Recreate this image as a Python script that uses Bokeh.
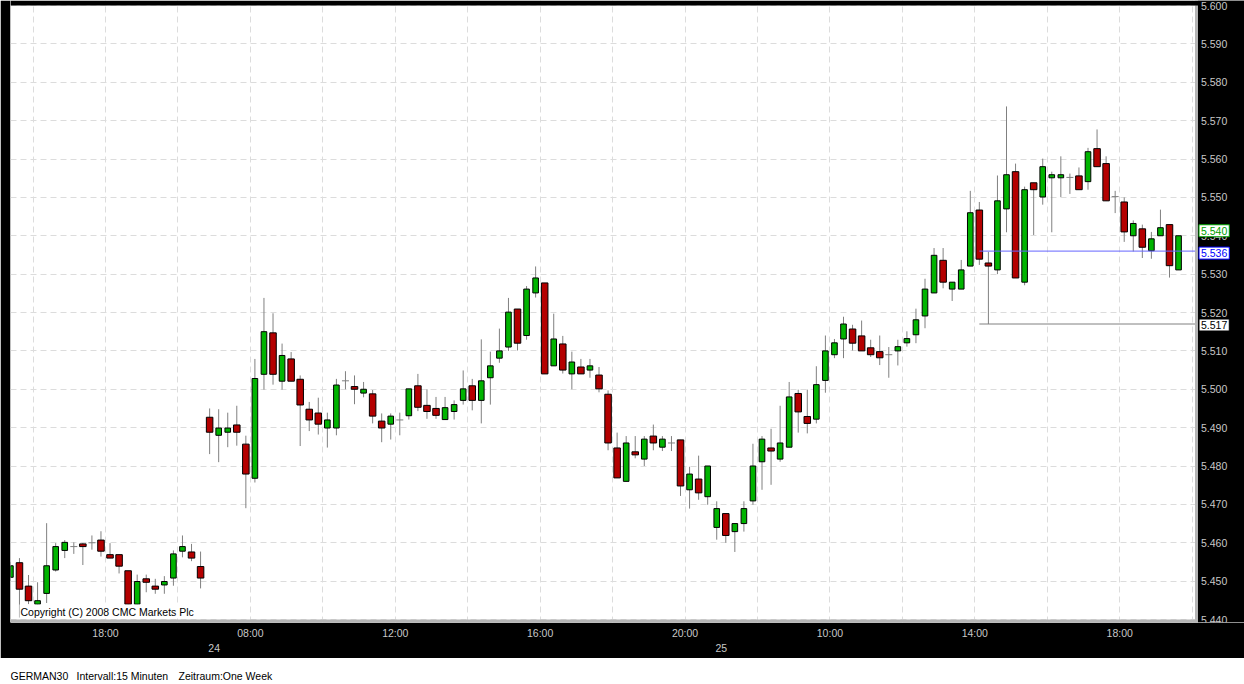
from bokeh.plotting import figure
from bokeh.models import (Range1d, FixedTicker, LinearAxis, PrintfTickFormatter, Label,
                          ColumnDataSource, BoxAnnotation, GlobalInlineStyleSheet)
from bokeh.layouts import column
from bokeh.embed import file_html
from bokeh.resources import INLINE

FONT = "Liberation Sans"
UP, DOWN, WICK = "#00b400", "#b40000", "#808080"
AXIS_TXT = "#c8c8c8"
FRAME_GRAY = "#b4b4b4"
GRID = "#dcdcdc"

# ---------------- data: GERMAN30, 15-minute bars ----------------
opens = [
    5.4510, 5.4548, 5.4487, 5.4440, 5.4468, 5.4529, 5.4580, 5.4590, 5.4597, 5.4600,
    5.4607, 5.4569, 5.4569, 5.4527, 5.4440, 5.4506, 5.4487, 5.4490, 5.4508, 5.4578,
    5.4576, 5.4538, 5.4927, 5.4880, 5.4888, 5.4907, 5.4857, 5.4768, 5.5039, 5.5147,
    5.5021, 5.5079, 5.5026, 5.4948, 5.4938, 5.4899, 5.4899, 5.5022, 5.5007, 5.4990,
    5.4988, 5.4917, 5.4909, 5.4920, 5.4931, 5.5009, 5.4958, 5.4950, 5.4921, 5.4942,
    5.4971, 5.5009, 5.4971, 5.5030, 5.5081, 5.5110, 5.5209, 5.5140, 5.5251, 5.5277,
    5.5061, 5.5118, 5.5040, 5.5058, 5.5050, 5.5037, 5.4987, 5.4847, 5.4760, 5.4837,
    5.4818, 5.4878, 5.4849, 5.4860, 5.4868, 5.4738, 5.4766, 5.4720, 5.4640, 5.4676,
    5.4629, 5.4650, 5.4709, 5.4811, 5.4847, 5.4818, 5.4849, 5.4989, 5.4929, 5.4922,
    5.5023, 5.5090, 5.5131, 5.5157, 5.5139, 5.5108, 5.5098, 5.5090, 5.5100, 5.5121,
    5.5142, 5.5191, 5.5251, 5.5336, 5.5261, 5.5261, 5.5321, 5.5467, 5.5329, 5.5311,
    5.5470, 5.5567, 5.5279, 5.5538, 5.5501, 5.5551, 5.5551, 5.5552, 5.5556, 5.5541,
    5.5627, 5.5588, 5.5502, 5.5488, 5.5400, 5.5418, 5.5361, 5.5400, 5.5429, 5.5311,
]
highs = [
    5.4550, 5.4560, 5.4516, 5.4497, 5.4651, 5.4599, 5.4607, 5.4601, 5.4599, 5.4619,
    5.4630, 5.4599, 5.4569, 5.4527, 5.4517, 5.4517, 5.4506, 5.4513, 5.4580, 5.4619,
    5.4597, 5.4577, 5.4950, 5.4948, 5.4939, 5.4957, 5.4879, 5.5079, 5.5238, 5.5198,
    5.5119, 5.5097, 5.5036, 5.4967, 5.4978, 5.4939, 5.5027, 5.5047, 5.5036, 5.5019,
    5.4998, 5.4937, 5.4937, 5.4939, 5.5001, 5.5040, 5.5000, 5.4980, 5.4980, 5.4971,
    5.5049, 5.5027, 5.5130, 5.5098, 5.5158, 5.5238, 5.5209, 5.5269, 5.5320, 5.5277,
    5.5197, 5.5139, 5.5098, 5.5079, 5.5079, 5.5058, 5.4997, 5.4887, 5.4878, 5.4878,
    5.4878, 5.4908, 5.4878, 5.4878, 5.4868, 5.4798, 5.4827, 5.4800, 5.4708, 5.4676,
    5.4650, 5.4708, 5.4858, 5.4878, 5.4897, 5.4957, 5.5019, 5.4999, 5.4999, 5.5060,
    5.5140, 5.5131, 5.5189, 5.5168, 5.5179, 5.5129, 5.5140, 5.5110, 5.5129, 5.5151,
    5.5210, 5.5288, 5.5368, 5.5368, 5.5279, 5.5337, 5.5517, 5.5488, 5.5358, 5.5557,
    5.5737, 5.5588, 5.5528, 5.5538, 5.5601, 5.5567, 5.5607, 5.5562, 5.5578, 5.5629,
    5.5677, 5.5607, 5.5517, 5.5500, 5.5440, 5.5429, 5.5410, 5.5468, 5.5429, 5.5400,
]
lows = [
    5.4500, 5.4405, 5.4440, 5.4437, 5.4443, 5.4525, 5.4560, 5.4571, 5.4542, 5.4582,
    5.4564, 5.4560, 5.4520, 5.4435, 5.4435, 5.4471, 5.4467, 5.4467, 5.4488, 5.4562,
    5.4552, 5.4481, 5.4831, 5.4810, 5.4849, 5.4853, 5.4690, 5.4757, 5.4999, 5.5012,
    5.4999, 5.5021, 5.4852, 5.4891, 5.4882, 5.4848, 5.4880, 5.5000, 5.4961, 5.4979,
    5.4911, 5.4862, 5.4869, 5.4880, 5.4921, 5.4943, 5.4923, 5.4923, 5.4921, 5.4921,
    5.4960, 5.4945, 5.4911, 5.4960, 5.5069, 5.5100, 5.5101, 5.5129, 5.5239, 5.5040,
    5.5061, 5.5041, 5.5000, 5.5040, 5.5030, 5.4992, 5.4841, 5.4769, 5.4760, 5.4820,
    5.4800, 5.4841, 5.4839, 5.4839, 5.4722, 5.4689, 5.4712, 5.4699, 5.4608, 5.4600,
    5.4576, 5.4629, 5.4699, 5.4738, 5.4751, 5.4811, 5.4849, 5.4887, 5.4885, 5.4911,
    5.4991, 5.5081, 5.5081, 5.5101, 5.5100, 5.5084, 5.5063, 5.5030, 5.5062, 5.5111,
    5.5120, 5.5159, 5.5251, 5.5263, 5.5230, 5.5261, 5.5321, 5.5324, 5.5170, 5.5300,
    5.5409, 5.5290, 5.5271, 5.5402, 5.5481, 5.5409, 5.5501, 5.5509, 5.5520, 5.5520,
    5.5580, 5.5491, 5.5459, 5.5384, 5.5359, 5.5342, 5.5340, 5.5400, 5.5291, 5.5311,
]
closes = [
    5.4540, 5.4479, 5.4449, 5.4449, 5.4540, 5.4590, 5.4601, 5.4590, 5.4590, 5.4600,
    5.4578, 5.4560, 5.4539, 5.4440, 5.4499, 5.4497, 5.4479, 5.4499, 5.4571, 5.4590,
    5.4560, 5.4508, 5.4888, 5.4899, 5.4899, 5.4888, 5.4779, 5.5028, 5.5150, 5.5039,
    5.5088, 5.5021, 5.4959, 5.4920, 5.4909, 5.4920, 5.5011, 5.5022, 5.5000, 5.5000,
    5.4930, 5.4899, 5.4930, 5.4920, 5.5001, 5.4953, 5.4942, 5.4932, 5.4952, 5.4960,
    5.5001, 5.4971, 5.5022, 5.5061, 5.5100, 5.5201, 5.5120, 5.5261, 5.5290, 5.5040,
    5.5131, 5.5050, 5.5071, 5.5040, 5.5061, 5.5001, 5.4860, 5.4769, 5.4860, 5.4829,
    5.4870, 5.4860, 5.4870, 5.4860, 5.4748, 5.4779, 5.4730, 5.4800, 5.4689, 5.4619,
    5.4650, 5.4689, 5.4800, 5.4870, 5.4839, 5.4860, 5.4980, 5.4941, 5.4911, 5.5012,
    5.5100, 5.5121, 5.5170, 5.5120, 5.5100, 5.5090, 5.5082, 5.5090, 5.5111, 5.5132,
    5.5181, 5.5261, 5.5349, 5.5279, 5.5279, 5.5311, 5.5460, 5.5339, 5.5321, 5.5491,
    5.5559, 5.5290, 5.5520, 5.5520, 5.5580, 5.5559, 5.5559, 5.5552, 5.5520, 5.5619,
    5.5580, 5.5491, 5.5502, 5.5410, 5.5432, 5.5370, 5.5392, 5.5421, 5.5322, 5.5400,
]

# trading sessions: (day, first bar time, number of bars)
sessions = [("23", "15:15", 22), ("24", "06:45", 56), ("25", "06:45", 52)]
time_tick_labels = ["18:00", "08:00", "12:00", "16:00", "20:00", "10:00", "14:00", "18:00"]
day_labels = ["24", "25"]
price_ticks = [round(5.440 + 0.010 * k, 3) for k in range(17)]

# horizontal marker lines (drawn from a bar index to the right edge) and price boxes
marker_line_start = 107
marker_line_values = [5.536, 5.517]
marker_line_colors = ["#6666ff", "#808080"]
box_values = [5.540, 5.536, 5.517]
box_colors = ["#00a000", "#0000ff", "#000000"]
box_y_offsets = [5, -2, -1]

status_texts = ["GERMAN30", "Intervall:15 Minuten", "Zeitraum:One Week"]
status_x = [10, 76, 178]
copyright_text = "Copyright (C) 2008 CMC Markets Plc"

# ---------------- bar times ----------------
bar_day, bar_time = [], []
for day, start, count in sessions:
    h, m = (int(s) for s in start.split(":"))
    for k in range(count):
        t = h * 60 + m + 15 * k
        bar_day.append(day)
        bar_time.append(f"{t // 60:02d}:{t % 60:02d}")
idx = list(range(len(bar_time)))

# ---------------- geometry ----------------
PX_PER_BAR = 9.0554          # horizontal scale
PX_PER_UNIT = 3837.5         # vertical scale (pixels per 1.0 of price)
FRAME_W = 1234               # frame spans x 10..1244
TOP_PAD, FRAME_H = 5, 622    # frame spans y 0..622, chart area starts at y 5
x_start = 0.01
x_end = x_start + FRAME_W / PX_PER_BAR
x_plot_end = x_start + 1184.5 / PX_PER_BAR      # end of the white chart area
band_w = 3 / PX_PER_BAR                          # grey border band width
y_data_top, y_data_bottom = 5.600, 5.440
y_top = y_data_top + TOP_PAD / PX_PER_UNIT
y_bottom = y_top - FRAME_H / PX_PER_UNIT         # leaves room for the grey bottom band

# tick positions at the left edge of the bar that starts at that time
time_pos = []
j = 0
for lab in time_tick_labels:
    while bar_time[j] != lab:
        j += 1
    time_pos.append(j - 0.5)
    j += 1

day_pos = [next(i for i in idx if bar_day[i] == d and bar_time[i] == "07:00") - 0.5
           for d in day_labels]

grid_pos = []
g = bar_time.index("16:00") - 0.5
while g < x_plot_end:
    grid_pos.append(g)
    g += 8

# ---------------- main figure ----------------
p = figure(width=1244, height=658,
           x_range=Range1d(x_start, x_end), y_range=Range1d(y_bottom, y_top),
           output_backend="svg", toolbar_location=None, y_axis_location="right",
           title=None,
           min_border_left=10, min_border_right=0, min_border_top=0, min_border_bottom=36,
           background_fill_color="white", border_fill_color="black")
p.outline_line_color = None

# grids (created with the figure, drawn first)
p.xgrid.ticker = FixedTicker(ticks=grid_pos)
p.ygrid.ticker = FixedTicker(ticks=price_ticks)
for gr in (p.xgrid, p.ygrid):
    gr.grid_line_color = GRID
    gr.grid_line_dash = "6 4"
    gr.grid_line_width = 1

# grey border bands of the chart area, black price-scale area and top margin
def box(left, right, bottom, top, color):
    p.add_layout(BoxAnnotation(left=left, right=right, bottom=bottom, top=top,
                               fill_color=color, fill_alpha=1, line_color=None,
                               level="underlay"))

box(x_plot_end, x_plot_end + band_w, y_bottom, y_top, FRAME_GRAY)
box(x_start, x_plot_end + band_w, y_bottom, y_data_bottom, FRAME_GRAY)
box(x_plot_end + band_w, x_end, y_bottom, y_top, "black")
box(x_start, x_end, y_data_top, y_top, "black")

# candles
src = ColumnDataSource(dict(x=idx, o=opens, h=highs, l=lows, c=closes))
p.segment(x0="x", y0="l", x1="x", y1="h", source=src, line_color=WICK, line_width=1)

up = [i for i in idx if closes[i] > opens[i]]
dn = [i for i in idx if closes[i] < opens[i]]
dj = [i for i in idx if closes[i] == opens[i]]

p.vbar(x=up, width=0.62, top=[closes[i] for i in up], bottom=[opens[i] for i in up],
       fill_color=UP, line_color="black", line_width=1)
p.vbar(x=dn, width=0.72, top=[opens[i] for i in dn], bottom=[closes[i] for i in dn],
       fill_color=DOWN, line_color="black", line_width=1)
p.scatter(x=dj, y=[opens[i] for i in dj], marker="dash", size=7,
          line_color=WICK, line_width=1)

# marker lines
msrc = ColumnDataSource(dict(x0=[marker_line_start] * len(marker_line_values),
                             x1=[x_plot_end] * len(marker_line_values),
                             y=marker_line_values, color=marker_line_colors))
p.segment(x0="x0", y0="y", x1="x1", y1="y", line_color="color", line_width=1, source=msrc)

# axes
xa = p.xaxis[0]
xa.ticker = FixedTicker(ticks=time_pos)
xa.major_label_overrides = {pos: lab for pos, lab in zip(time_pos, time_tick_labels)}
xa.axis_line_color = None
xa.major_tick_in = 0
xa.major_tick_out = 0
xa.minor_tick_in = 0
xa.minor_tick_out = 0
xa.major_label_standoff = 4
xa.major_label_text_color = AXIS_TXT
xa.major_label_text_font = FONT
xa.major_label_text_font_size = "10.5px"

day_axis = LinearAxis(ticker=FixedTicker(ticks=day_pos),
                      major_label_overrides={pos: lab for pos, lab in zip(day_pos, day_labels)},
                      axis_line_color=None, major_tick_in=0, major_tick_out=0,
                      minor_tick_in=0, minor_tick_out=0, major_label_standoff=2,
                      major_label_text_color=AXIS_TXT, major_label_text_font=FONT,
                      major_label_text_font_size="10.5px")
p.add_layout(day_axis, "below")

ya = p.yaxis[0]
ya.fixed_location = x_plot_end + band_w
ya.ticker = FixedTicker(ticks=price_ticks)
ya.formatter = PrintfTickFormatter(format="%.3f")
ya.axis_line_color = None
ya.major_tick_in = 0
ya.major_tick_out = 0
ya.minor_tick_in = 0
ya.minor_tick_out = 0
ya.major_label_standoff = 3
ya.major_label_text_color = AXIS_TXT
ya.major_label_text_font = FONT
ya.major_label_text_font_size = "10.5px"

p.add_layout(Label(x=x_start, y=y_data_bottom, x_offset=9, y_offset=8, text=copyright_text,
                   text_baseline="middle", text_align="left", text_color="black",
                   text_font=FONT, text_font_size="10.5px",
                   background_fill_color="white", padding=1))

for v, c, off in zip(box_values, box_colors, box_y_offsets):
    p.add_layout(Label(x=x_plot_end, y=v, x_offset=4, y_offset=off, text=f"{v:.3f}",
                       text_baseline="middle", text_align="left", text_color=c,
                       text_font=FONT, text_font_size="10.5px",
                       background_fill_color="white", border_line_color=c,
                       border_line_width=1, padding=2))

# ---------------- status bar ----------------
# frame aligned with the main frame (x 10..1244), data units = pixels
s = figure(width=1244, height=26, x_range=Range1d(10, 1244), y_range=Range1d(0, 26),
           output_backend="svg", toolbar_location=None, x_axis_type=None, y_axis_type=None,
           title=None, min_border_left=10, min_border_right=0, min_border_top=0,
           min_border_bottom=0, background_fill_color="white", border_fill_color="white")
s.outline_line_color = None
for sx, txt in zip(status_x, status_texts):
    s.add_layout(Label(x=sx, y=9, text=txt, text_baseline="middle", text_align="left",
                       text_color="black", text_font=FONT, text_font_size="10.5px"))

layout = column(p, s, spacing=0, stylesheets=[GlobalInlineStyleSheet(
    css="html,body{margin:0;padding:0;background:#fff;overflow:hidden;}")])

open("out.html", "w").write(file_html(layout, INLINE))
